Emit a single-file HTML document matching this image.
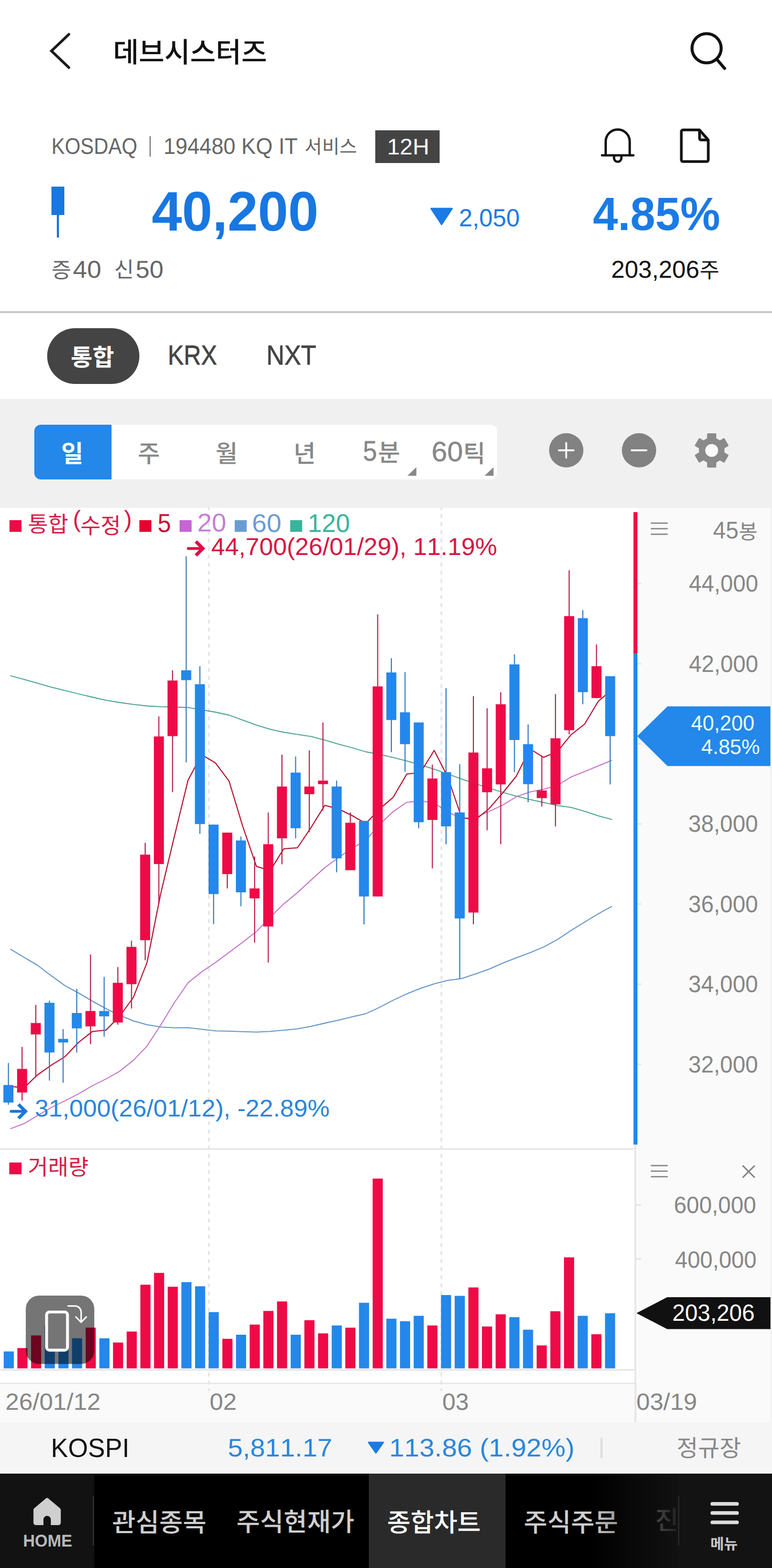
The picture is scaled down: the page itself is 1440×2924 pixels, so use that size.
<!DOCTYPE html>
<html lang="ko"><head><meta charset="utf-8"><meta name="viewport" content="width=1440"><title>종합차트</title><style>
html,body{margin:0;padding:0}
body{width:1440px;height:2924px;position:relative;overflow:hidden;background:#fff;font-family:"Liberation Sans",sans-serif;font-kerning:none;text-rendering:geometricPrecision;-webkit-font-smoothing:antialiased}
h1{margin:0;font-size:inherit;font-weight:inherit}
.abs{position:absolute}
.t{position:absolute;white-space:nowrap;line-height:1;transform-origin:0 0;display:block}
.k{position:absolute;overflow:visible}
.k text{font-family:"Liberation Sans","Noto Sans CJK KR",sans-serif}
.med{-webkit-text-stroke:0.7px currentColor}
.med5{-webkit-text-stroke:0.5px currentColor}
</style></head>
<body>
<header>
<svg class="abs" style="left:80px;top:50px" width="70" height="90" viewBox="80 50 70 90" aria-label="back"><polyline points="128.5,64 96,95 128.5,126" fill="none" stroke="#1a1a1a" stroke-width="5" stroke-linecap="round" stroke-linejoin="miter"/></svg>
<h1><svg class="k" style="left:211.4px;top:67.9px" width="307.0" height="52.8" viewBox="0 0 307.0 52.8"><text x="0" y="47.7" font-size="52" font-weight="500" fill="#111">데브시스터즈</text></svg></h1>
<svg class="abs" style="left:1280px;top:50px" width="90" height="90" viewBox="1280 50 90 90" aria-label="search"><circle cx="1318" cy="90" r="27.2" fill="none" stroke="#111" stroke-width="5.6"/><line x1="1337" y1="110.5" x2="1351.6" y2="127.6" stroke="#111" stroke-width="5.6" stroke-linecap="round"/></svg>
</header>
<section class="info">
<span class="t" style="left:95.9px;top:251.8px;font-size:42.3px;color:#666;transform:scaleX(0.8849);">KOSDAQ</span>
<div class="abs" style="left:279.0px;top:253.5px;width:2.4px;height:38.0px;background:#707070;"></div>
<span class="t" style="left:305.3px;top:251.8px;font-size:42.3px;color:#666;transform:scaleX(0.9507);">194480 KQ IT</span>
<svg class="k" style="left:567.9px;top:252.3px" width="106.6" height="38.3" viewBox="0 0 106.6 38.3"><text x="0" y="34.3" font-size="35.5" fill="#666">서비스</text></svg>
<div class="abs" style="left:700.2px;top:243.4px;width:119.8px;height:60.5px;background:#444;"></div>
<span class="t" style="left:721.9px;top:253.3px;font-size:41.9px;color:#fff;transform:scaleX(1.0234);">12H</span>
<svg class="abs" style="left:1110px;top:230px" width="230" height="85" viewBox="1110 230 230 85" aria-label="alarm and memo">
<g fill="none" stroke="#111" stroke-width="4.4" stroke-linecap="round" stroke-linejoin="round">
<path d="M1129.8 289.6V263.8A22.4 22.4 0 0 1 1174.6 263.8V289.6"/><path d="M1122.9 289.6H1181.5"/><path d="M1145.4 290.5V294.9A6.8 6.8 0 0 0 1159 294.9V290.5"/></g>
<path d="M1305 243V258.5a3 3 0 0 0 3 3H1320.5Z" fill="#ddd"/>
<g fill="none" stroke="#111" stroke-width="5" stroke-linejoin="round"><path d="M1273.9 242.3H1304.8L1321.1 261V298.3a3 3 0 0 1-3 3H1273.9a3 3 0 0 1-3-3V245.3a3 3 0 0 1 3-3Z"/><path d="M1304.8 242.3V258a3 3 0 0 0 3 3H1321.1"/></g></svg>
<div class="abs" style="left:96.2px;top:348.0px;width:23.9px;height:52.7px;background:#1877e0;"></div>
<div class="abs" style="left:105.9px;top:400.0px;width:4.1px;height:42.6px;background:#1877e0;"></div>
<span class="t price" style="left:283.2px;top:342.5px;font-size:104.1px;color:#1877e0;font-weight:bold;transform:scaleX(0.9774);">40,200</span>
<svg class="abs" style="left:795px;top:380px" width="60" height="48" viewBox="795 380 60 48"><path d="M804.4 387.4H843a1.6 1.6 0 0 1 1.3 2.4L825 419a1.6 1.6 0 0 1-2.6 0L803.1 389.8a1.6 1.6 0 0 1 1.3-2.4Z" fill="#1a7ae6"/></svg>
<span class="t" style="left:856.1px;top:382.8px;font-size:46.1px;color:#1a7ae6;transform:scaleX(0.9834);">2,050</span>
<span class="t" style="left:1106.4px;top:355.5px;font-size:87.2px;color:#1a7ae6;font-weight:bold;transform:scaleX(0.9601);">4.85%</span>
<svg class="k" style="left:96.4px;top:482.1px" width="39.0" height="40.7" viewBox="0 0 39.0 40.7"><text x="0" y="36.4" font-size="40" fill="#666">증</text></svg>
<span class="t" style="left:135.8px;top:479.5px;font-size:45.5px;color:#666;transform:scaleX(1.0442);">40</span>
<svg class="k" style="left:213.7px;top:480.2px" width="35.7" height="41.0" viewBox="0 0 35.7 41.0"><text x="-1" y="36.7" font-size="40" fill="#666">신</text></svg>
<span class="t" style="left:253.2px;top:479.5px;font-size:45.5px;color:#666;transform:scaleX(1.0253);">50</span>
<span class="t" style="left:1140.0px;top:479.5px;font-size:45.5px;color:#111;">203,206</span>
<svg class="k" style="left:1304.8px;top:482.7px" width="38.4" height="39.7" viewBox="0 0 38.4 39.7"><text x="0" y="35.5" font-size="40" fill="#111">주</text></svg>
</section>
<div class="abs" style="left:0.0px;top:580.0px;width:1440.0px;height:4.0px;background:#ccc;"></div>
<nav class="market">
<div class="abs" style="left:87.8px;top:611.8px;width:172.2px;height:103.9px;background:#444;border-radius:52px;"></div>
<svg class="k" style="left:131.5px;top:638.7px" width="87.8" height="47.5" viewBox="0 0 87.8 47.5"><text x="0" y="43" font-size="44" font-weight="700" fill="#fff">통합</text></svg>
<span class="t med" style="left:312.5px;top:637.4px;font-size:51.3px;color:#444;transform:scaleX(0.8703);">KRX</span>
<span class="t med" style="left:496.6px;top:637.4px;font-size:51.3px;color:#444;transform:scaleX(0.9062);">NXT</span>
</nav>
<section class="toolbar">
<div class="abs" style="left:0.0px;top:744.0px;width:1440.0px;height:203.0px;background:#f0f0f0;"></div>
<div class="abs" style="left:63.7px;top:792.0px;width:863.8px;height:102.0px;background:#fff;border-radius:12px;"></div>
<div class="abs" style="left:63.7px;top:792.0px;width:144.5px;height:102.0px;background:#2487ea;border-radius:12px 0 0 12px;"></div>
<svg class="k" style="left:115.3px;top:818.5px" width="40.6" height="47.3" viewBox="0 0 40.6 47.3"><text x="-1" y="42.7" font-size="45" font-weight="700" fill="#f2ffff">일</text></svg>
<svg class="k" style="left:258.0px;top:821.5px" width="42.8" height="44.5" viewBox="0 0 42.8 44.5"><text x="-1" y="39.9" font-size="45" font-weight="500" fill="#888">주</text></svg>
<svg class="k" style="left:402.5px;top:817.5px" width="42.8" height="48.9" viewBox="0 0 42.8 48.9"><text x="-1" y="44.3" font-size="45" font-weight="500" fill="#888">월</text></svg>
<svg class="k" style="left:548.7px;top:817.5px" width="40.5" height="49.1" viewBox="0 0 40.5 49.1"><text x="-1.5" y="44.5" font-size="45" font-weight="500" fill="#888">년</text></svg>
<span class="t med5" style="left:677.2px;top:816.3px;font-size:52.6px;color:#888;transform:scaleX(0.8982);">5</span>
<svg class="k" style="left:705.7px;top:819.8px" width="43.0" height="44.9" viewBox="0 0 43.0 44.9"><text x="-1" y="40.3" font-size="45" font-weight="500" fill="#888">분</text></svg>
<span class="t med5" style="left:804.5px;top:816.9px;font-size:51.8px;color:#888;transform:scaleX(1.0177);">60</span>
<svg class="k" style="left:865.9px;top:818.7px" width="37.1" height="47.4" viewBox="0 0 37.1 47.4"><text x="-2" y="42.8" font-size="45" font-weight="500" fill="#888">틱</text></svg>
<svg class="abs" style="left:750px;top:860px" width="180" height="34" viewBox="750 860 180 34"><path d="M776.6 871.2V887.3H760Z" fill="#888"/><path d="M920.6 871.2V887.3H903.8Z" fill="#888"/></svg>
<svg class="abs" style="left:1015px;top:800px" width="360" height="80" viewBox="1015 800 360 80" aria-label="zoom and settings">
<circle cx="1056.2" cy="839.7" r="32" fill="#828282"/><path d="M1042.4 839.7H1070M1056.2 825.9V853.5" stroke="#fff" stroke-width="3.4" stroke-linecap="round"/>
<circle cx="1192" cy="839.7" r="32" fill="#828282"/><path d="M1178.2 839.7H1205.8" stroke="#fff" stroke-width="3.4" stroke-linecap="round"/>
<g fill="#8a8a8a" transform="translate(1327.5 839.9)"><circle r="24"/>
<rect x="-8.6" y="-32" width="17.2" height="20" rx="2" transform="rotate(0)"/>
<rect x="-8.6" y="-32" width="17.2" height="20" rx="2" transform="rotate(60)"/>
<rect x="-8.6" y="-32" width="17.2" height="20" rx="2" transform="rotate(120)"/>
<rect x="-8.6" y="-32" width="17.2" height="20" rx="2" transform="rotate(180)"/>
<rect x="-8.6" y="-32" width="17.2" height="20" rx="2" transform="rotate(240)"/>
<rect x="-8.6" y="-32" width="17.2" height="20" rx="2" transform="rotate(300)"/>
<circle r="12" fill="#fafafa"/></g></svg>
</section>
<main class="chart">
<div class="abs" style="left:1189.0px;top:946.5px;width:248.0px;height:1705.5px;background:#fafafa;"></div>
<div class="abs" style="left:1437.0px;top:946.5px;width:3.0px;height:1705.5px;background:#f2f2f2;"></div>
<div class="abs" style="left:0.0px;top:2580.0px;width:1189.0px;height:72.0px;background:#fafafa;"></div>
<svg class="abs" style="left:0;top:946px" width="1440" height="1706" viewBox="0 946 1440 1706">
<g fill="#e6e6e6">
<rect x="0" y="2141" width="1184" height="3"/>
<rect x="0" y="2553" width="1186" height="3"/>
<rect x="0" y="2578.5" width="1186" height="2.5"/>
<rect x="1183.5" y="2136" width="3.5" height="516"/>
</g>
<line x1="389.6" y1="943.6" x2="389.6" y2="2594" stroke="#e5e5e5" stroke-width="3.4" stroke-dasharray="7.4 7.7"/>
<line x1="823.3" y1="943.6" x2="823.3" y2="2594" stroke="#e5e5e5" stroke-width="3.4" stroke-dasharray="7.4 7.7"/>
<g fill="#e4e4e4">
<rect x="1189" y="1983.2" width="7" height="3"/>
<rect x="1189" y="1833.8" width="7" height="3"/>
<rect x="1189" y="1684.4" width="7" height="3"/>
<rect x="1189" y="1535.0" width="7" height="3"/>
<rect x="1189" y="1385.7" width="7" height="3"/>
<rect x="1189" y="1236.3" width="7" height="3"/>
<rect x="1189" y="1086.9" width="7" height="3"/>
<rect x="1187" y="2245.5" width="9" height="3"/>
<rect x="1187" y="2346.2" width="9" height="3"/>
</g>
<polyline points="19.1,1260.0 44.6,1266.8 70.1,1274.1 95.6,1281.3 121.1,1287.7 146.7,1294.0 172.2,1300.0 197.7,1305.8 223.2,1310.0 248.7,1313.6 274.2,1316.5 299.7,1317.9 325.2,1318.5 350.7,1319.4 376.2,1323.7 401.8,1328.0 427.3,1333.5 452.8,1342.8 478.3,1352.1 503.8,1359.9 529.3,1365.5 554.8,1369.7 580.3,1373.4 605.8,1380.1 631.3,1387.6 656.9,1394.5 682.4,1402.0 707.9,1406.6 733.4,1412.7 758.9,1419.1 784.4,1426.3 809.9,1434.4 835.4,1443.5 860.9,1452.6 886.4,1461.4 912.0,1469.7 937.5,1477.5 963.0,1484.7 988.5,1490.9 1014.0,1496.5 1039.5,1502.1 1065.0,1505.6 1090.5,1512.9 1116.0,1521.3 1141.5,1528.2" fill="none" stroke="#45a38e" stroke-width="1.8" stroke-linejoin="round"/>
<polyline points="19.1,1769.7 44.6,1785.1 70.1,1800.1 95.6,1819.5 121.1,1838.0 146.7,1851.9 172.2,1866.9 197.7,1880.9 223.2,1893.2 248.7,1903.8 274.2,1910.8 299.7,1915.2 325.2,1916.7 350.7,1916.4 376.2,1919.3 401.8,1922.4 427.3,1922.8 452.8,1923.9 478.3,1924.7 503.8,1923.3 529.3,1921.1 554.8,1918.7 580.3,1913.9 605.8,1908.0 631.3,1902.3 656.9,1896.2 682.4,1890.3 707.9,1878.5 733.4,1865.2 758.9,1853.3 784.4,1843.1 809.9,1834.7 835.4,1828.2 860.9,1824.8 886.4,1816.3 912.0,1807.3 937.5,1796.2 963.0,1786.2 988.5,1776.6 1014.0,1766.0 1039.5,1752.2 1065.0,1735.3 1090.5,1719.6 1116.0,1704.0 1141.5,1690.0" fill="none" stroke="#5a90c2" stroke-width="1.8" stroke-linejoin="round"/>
<polyline points="19.1,2105.0 44.6,2095.4 70.1,2080.3 95.6,2065.2 121.1,2052.7 146.7,2039.8 172.2,2024.7 197.7,2012.0 223.2,1997.8 248.7,1977.3 274.2,1950.8 299.7,1911.5 325.2,1869.8 350.7,1832.7 376.2,1812.2 401.8,1795.0 427.3,1776.0 452.8,1757.0 478.3,1737.1 503.8,1710.6 529.3,1685.7 554.8,1664.5 580.3,1641.0 605.8,1618.0 631.3,1599.1 656.9,1581.9 682.4,1566.8 707.9,1537.4 733.4,1513.5 758.9,1496.1 784.4,1493.3 809.9,1497.4 835.4,1514.4 860.9,1526.0 886.4,1524.8 912.0,1513.3 937.5,1501.5 963.0,1485.7 988.5,1476.8 1014.0,1471.7 1039.5,1464.7 1065.0,1448.9 1090.5,1438.8 1116.0,1428.2 1141.5,1417.9" fill="none" stroke="#c26dc6" stroke-width="1.8" stroke-linejoin="round"/>
<polyline points="19.1,2025.7 44.6,2028.7 70.1,2004.3 95.6,1986.3 121.1,1970.5 146.7,1943.7 172.2,1923.6 197.7,1921.0 223.2,1895.0 248.7,1860.0 274.2,1795.0 299.7,1666.7 325.2,1560.0 350.7,1455.0 376.2,1407.3 401.8,1422.7 427.3,1456.7 452.8,1541.0 478.3,1615.5 503.8,1623.8 529.3,1582.7 554.8,1581.0 580.3,1543.0 605.8,1501.7 631.3,1508.5 656.9,1521.0 682.4,1535.7 707.9,1508.6 733.4,1486.7 758.9,1443.3 784.4,1440.8 809.9,1399.3 835.4,1449.5 860.9,1524.5 886.4,1529.0 912.0,1508.2 937.5,1479.0 963.0,1447.5 988.5,1396.5 1014.0,1412.3 1039.5,1401.7 1065.0,1370.3 1090.5,1350.3 1116.0,1307.7 1141.5,1286.0" fill="none" stroke="#b5122f" stroke-width="2.05" stroke-linejoin="round"/>
<rect x="14.7" y="1982.3" width="2" height="77.7" fill="#3579bd"/>
<rect x="6.3" y="2023.3" width="18.7" height="32.7" fill="#2487ea"/>
<rect x="40.2" y="1952.3" width="2" height="100.0" fill="#b81d4a"/>
<rect x="31.9" y="1993.3" width="18.7" height="44.0" fill="#ee0a46"/>
<rect x="65.7" y="1874.0" width="2" height="134.3" fill="#b81d4a"/>
<rect x="57.4" y="1907.7" width="18.7" height="21.3" fill="#ee0a46"/>
<rect x="91.2" y="1866.0" width="2" height="149.0" fill="#3579bd"/>
<rect x="82.9" y="1870.0" width="18.7" height="92.7" fill="#2487ea"/>
<rect x="116.7" y="1919.0" width="2" height="100.0" fill="#3579bd"/>
<rect x="108.4" y="1937.3" width="18.7" height="6.7" fill="#2487ea"/>
<rect x="142.2" y="1844.0" width="2" height="118.7" fill="#3579bd"/>
<rect x="133.9" y="1889.0" width="18.7" height="28.7" fill="#2487ea"/>
<rect x="167.8" y="1780.0" width="2" height="167.3" fill="#b81d4a"/>
<rect x="159.4" y="1885.3" width="18.7" height="28.7" fill="#ee0a46"/>
<rect x="193.3" y="1821.7" width="2" height="111.6" fill="#3579bd"/>
<rect x="184.9" y="1885.3" width="18.7" height="10.0" fill="#2487ea"/>
<rect x="218.8" y="1803.3" width="2" height="107.4" fill="#b81d4a"/>
<rect x="210.4" y="1832.7" width="18.7" height="74.0" fill="#ee0a46"/>
<rect x="244.3" y="1754.3" width="2" height="126.4" fill="#b81d4a"/>
<rect x="235.9" y="1765.7" width="18.7" height="69.6" fill="#ee0a46"/>
<rect x="269.8" y="1571.7" width="2" height="219.0" fill="#b81d4a"/>
<rect x="261.4" y="1593.7" width="18.7" height="159.6" fill="#ee0a46"/>
<rect x="295.3" y="1336.0" width="2" height="350.0" fill="#b81d4a"/>
<rect x="287.0" y="1373.3" width="18.7" height="238.0" fill="#ee0a46"/>
<rect x="320.8" y="1250.0" width="2" height="227.3" fill="#b81d4a"/>
<rect x="312.5" y="1269.0" width="18.7" height="103.7" fill="#ee0a46"/>
<rect x="346.3" y="1037.3" width="2" height="384.4" fill="#3579bd"/>
<rect x="338.0" y="1250.0" width="18.7" height="18.3" fill="#2487ea"/>
<rect x="371.8" y="1242.3" width="2" height="312.7" fill="#3579bd"/>
<rect x="363.5" y="1276.0" width="18.7" height="260.7" fill="#2487ea"/>
<rect x="397.4" y="1537.7" width="2" height="185.6" fill="#3579bd"/>
<rect x="389.0" y="1537.7" width="18.7" height="129.6" fill="#2487ea"/>
<rect x="422.9" y="1552.7" width="2" height="104.0" fill="#b81d4a"/>
<rect x="414.5" y="1552.7" width="18.7" height="77.3" fill="#ee0a46"/>
<rect x="448.4" y="1560.0" width="2" height="130.0" fill="#3579bd"/>
<rect x="440.0" y="1567.3" width="18.7" height="96.7" fill="#2487ea"/>
<rect x="473.9" y="1597.3" width="2" height="160.4" fill="#b81d4a"/>
<rect x="465.5" y="1656.7" width="18.7" height="18.6" fill="#ee0a46"/>
<rect x="499.4" y="1515.0" width="2" height="280.0" fill="#b81d4a"/>
<rect x="491.0" y="1574.3" width="18.7" height="153.4" fill="#ee0a46"/>
<rect x="524.9" y="1407.3" width="2" height="204.4" fill="#b81d4a"/>
<rect x="516.6" y="1466.7" width="18.7" height="96.6" fill="#ee0a46"/>
<rect x="550.4" y="1410.7" width="2" height="152.6" fill="#3579bd"/>
<rect x="542.1" y="1440.7" width="18.7" height="103.8" fill="#2487ea"/>
<rect x="575.9" y="1399.3" width="2" height="152.4" fill="#b81d4a"/>
<rect x="567.6" y="1466.7" width="18.7" height="14.3" fill="#ee0a46"/>
<rect x="601.4" y="1347.3" width="2" height="164.4" fill="#b81d4a"/>
<rect x="593.1" y="1455.7" width="18.7" height="6.6" fill="#ee0a46"/>
<rect x="626.9" y="1455.7" width="2" height="171.0" fill="#3579bd"/>
<rect x="618.6" y="1466.7" width="18.7" height="134.0" fill="#2487ea"/>
<rect x="652.5" y="1515.0" width="2" height="107.7" fill="#b81d4a"/>
<rect x="644.1" y="1534.3" width="18.7" height="88.4" fill="#ee0a46"/>
<rect x="678.0" y="1530.7" width="2" height="193.0" fill="#3579bd"/>
<rect x="669.6" y="1530.7" width="18.7" height="141.0" fill="#2487ea"/>
<rect x="703.5" y="1145.7" width="2" height="526.0" fill="#b81d4a"/>
<rect x="695.1" y="1280.0" width="18.7" height="391.7" fill="#ee0a46"/>
<rect x="729.0" y="1227.3" width="2" height="175.4" fill="#3579bd"/>
<rect x="720.6" y="1254.0" width="18.7" height="88.7" fill="#2487ea"/>
<rect x="754.5" y="1253.3" width="2" height="186.0" fill="#3579bd"/>
<rect x="746.1" y="1328.3" width="18.7" height="59.4" fill="#2487ea"/>
<rect x="780.0" y="1347.3" width="2" height="197.2" fill="#3579bd"/>
<rect x="771.7" y="1347.3" width="18.7" height="186.0" fill="#2487ea"/>
<rect x="805.5" y="1425.7" width="2" height="193.6" fill="#b81d4a"/>
<rect x="797.2" y="1451.7" width="18.7" height="77.3" fill="#ee0a46"/>
<rect x="831.0" y="1283.3" width="2" height="291.0" fill="#3579bd"/>
<rect x="822.7" y="1440.0" width="18.7" height="101.0" fill="#2487ea"/>
<rect x="856.5" y="1425.0" width="2" height="401.0" fill="#3579bd"/>
<rect x="848.2" y="1515.0" width="18.7" height="197.7" fill="#2487ea"/>
<rect x="882.0" y="1298.3" width="2" height="425.4" fill="#b81d4a"/>
<rect x="873.7" y="1403.3" width="18.7" height="298.4" fill="#ee0a46"/>
<rect x="907.6" y="1320.7" width="2" height="227.6" fill="#b81d4a"/>
<rect x="899.2" y="1432.7" width="18.7" height="44.6" fill="#ee0a46"/>
<rect x="933.1" y="1291.0" width="2" height="283.3" fill="#b81d4a"/>
<rect x="924.7" y="1313.3" width="18.7" height="149.4" fill="#ee0a46"/>
<rect x="958.6" y="1220.0" width="2" height="220.0" fill="#3579bd"/>
<rect x="950.2" y="1239.0" width="18.7" height="141.0" fill="#2487ea"/>
<rect x="984.1" y="1351.0" width="2" height="145.0" fill="#3579bd"/>
<rect x="975.7" y="1387.7" width="18.7" height="74.6" fill="#2487ea"/>
<rect x="1009.6" y="1410.0" width="2" height="94.0" fill="#b81d4a"/>
<rect x="1001.2" y="1474.0" width="18.7" height="14.3" fill="#ee0a46"/>
<rect x="1035.1" y="1294.3" width="2" height="246.7" fill="#b81d4a"/>
<rect x="1026.8" y="1376.7" width="18.7" height="123.3" fill="#ee0a46"/>
<rect x="1060.6" y="1063.3" width="2" height="306.0" fill="#b81d4a"/>
<rect x="1052.3" y="1149.0" width="18.7" height="212.7" fill="#ee0a46"/>
<rect x="1086.1" y="1137.7" width="2" height="175.6" fill="#3579bd"/>
<rect x="1077.8" y="1152.7" width="18.7" height="138.0" fill="#2487ea"/>
<rect x="1111.6" y="1201.7" width="2" height="100.0" fill="#b81d4a"/>
<rect x="1103.3" y="1242.3" width="18.7" height="59.4" fill="#ee0a46"/>
<rect x="1137.1" y="1261.0" width="2" height="201.7" fill="#3579bd"/>
<rect x="1128.8" y="1261.0" width="18.7" height="111.7" fill="#2487ea"/>
<rect x="6.9" y="2520.2" width="18.9" height="31.5" fill="#2487ea"/>
<rect x="32.4" y="2513.9" width="18.9" height="37.8" fill="#ee0a46"/>
<rect x="57.9" y="2490.3" width="18.9" height="61.4" fill="#ee0a46"/>
<rect x="83.4" y="2471.0" width="18.9" height="80.7" fill="#2487ea"/>
<rect x="108.9" y="2500.0" width="18.9" height="51.7" fill="#2487ea"/>
<rect x="134.3" y="2495.6" width="18.9" height="56.1" fill="#2487ea"/>
<rect x="159.8" y="2475.8" width="18.9" height="75.9" fill="#ee0a46"/>
<rect x="185.3" y="2495.6" width="18.9" height="56.1" fill="#2487ea"/>
<rect x="210.8" y="2503.5" width="18.9" height="48.2" fill="#ee0a46"/>
<rect x="236.3" y="2483.0" width="18.9" height="68.7" fill="#ee0a46"/>
<rect x="261.8" y="2395.7" width="18.9" height="156.0" fill="#ee0a46"/>
<rect x="287.3" y="2373.7" width="18.9" height="178.0" fill="#ee0a46"/>
<rect x="312.8" y="2399.5" width="18.9" height="152.2" fill="#ee0a46"/>
<rect x="338.3" y="2391.0" width="18.9" height="160.7" fill="#2487ea"/>
<rect x="363.8" y="2398.6" width="18.9" height="153.1" fill="#2487ea"/>
<rect x="389.2" y="2446.8" width="18.9" height="104.9" fill="#2487ea"/>
<rect x="414.7" y="2496.6" width="18.9" height="55.1" fill="#ee0a46"/>
<rect x="440.2" y="2489.0" width="18.9" height="62.7" fill="#2487ea"/>
<rect x="465.7" y="2470.1" width="18.9" height="81.6" fill="#ee0a46"/>
<rect x="491.2" y="2444.6" width="18.9" height="107.1" fill="#ee0a46"/>
<rect x="516.7" y="2426.9" width="18.9" height="124.8" fill="#ee0a46"/>
<rect x="542.2" y="2489.0" width="18.9" height="62.7" fill="#2487ea"/>
<rect x="567.7" y="2461.9" width="18.9" height="89.8" fill="#ee0a46"/>
<rect x="593.2" y="2486.5" width="18.9" height="65.2" fill="#ee0a46"/>
<rect x="618.7" y="2471.7" width="18.9" height="80.0" fill="#2487ea"/>
<rect x="644.1" y="2475.8" width="18.9" height="75.9" fill="#ee0a46"/>
<rect x="669.6" y="2429.4" width="18.9" height="122.3" fill="#2487ea"/>
<rect x="695.1" y="2197.8" width="18.9" height="353.9" fill="#ee0a46"/>
<rect x="720.6" y="2459.1" width="18.9" height="92.6" fill="#2487ea"/>
<rect x="746.1" y="2463.8" width="18.9" height="87.9" fill="#2487ea"/>
<rect x="771.6" y="2453.7" width="18.9" height="98.0" fill="#2487ea"/>
<rect x="797.1" y="2471.7" width="18.9" height="80.0" fill="#ee0a46"/>
<rect x="822.6" y="2415.0" width="18.9" height="136.7" fill="#2487ea"/>
<rect x="848.1" y="2416.5" width="18.9" height="135.2" fill="#2487ea"/>
<rect x="873.6" y="2400.8" width="18.9" height="150.9" fill="#ee0a46"/>
<rect x="899.0" y="2473.6" width="18.9" height="78.1" fill="#ee0a46"/>
<rect x="924.5" y="2450.9" width="18.9" height="100.8" fill="#ee0a46"/>
<rect x="950.0" y="2456.2" width="18.9" height="95.5" fill="#2487ea"/>
<rect x="975.5" y="2479.6" width="18.9" height="72.1" fill="#2487ea"/>
<rect x="1001.0" y="2508.9" width="18.9" height="42.8" fill="#ee0a46"/>
<rect x="1026.5" y="2445.2" width="18.9" height="106.5" fill="#ee0a46"/>
<rect x="1052.0" y="2344.7" width="18.9" height="207.0" fill="#ee0a46"/>
<rect x="1077.5" y="2453.7" width="18.9" height="98.0" fill="#2487ea"/>
<rect x="1103.0" y="2488.1" width="18.9" height="63.6" fill="#ee0a46"/>
<rect x="1128.5" y="2449.0" width="18.9" height="102.7" fill="#2487ea"/>
<rect x="1181.6" y="955" width="7.4" height="264.5" fill="#ee0a46"/>
<rect x="1181.6" y="1219.5" width="7.4" height="915" fill="#2487ea"/>
<path d="M1188.6 1372.7L1245 1317.3H1437V1428.6H1245Z" fill="#2487ea"/>
<path d="M1187.2 2448.8L1244.5 2419.1H1437.2V2478.5H1244.5Z" fill="#111"/>
<g stroke="#878787" stroke-width="2.5" fill="none">
<path d="M1214 975.5H1245.5"/>
<path d="M1214 985.9H1245.5"/>
<path d="M1214 996.2H1245.5"/>
<path d="M1214 2173.6H1245.5"/>
<path d="M1214 2183.9H1245.5"/>
<path d="M1214 2194.3H1245.5"/>
<path d="M1385.2 2173.5L1407.8 2196M1407.8 2173.5L1385.2 2196" stroke-width="2.9"/>
</g>
<path d="M351.1 1022.8H375.8" fill="none" stroke="#e10c44" stroke-width="5.2" stroke-linecap="round"/><path d="M367.5 1012.0L378.40000000000003 1022.8L367.5 1033.6" fill="none" stroke="#e10c44" stroke-width="6.2" stroke-linecap="square" stroke-linejoin="miter"/>
<path d="M20.8 2072.4H44.9" fill="none" stroke="#1b76da" stroke-width="5.2" stroke-linecap="round"/><path d="M36.599999999999994 2061.6L47.5 2072.4L36.599999999999994 2083.2000000000003" fill="none" stroke="#1b76da" stroke-width="6.2" stroke-linecap="square" stroke-linejoin="miter"/>
<rect x="17.7" y="970" width="22.4" height="21.8" fill="#ee0a46"/>
<rect x="260" y="970" width="22.4" height="21.8" fill="#e6002e"/>
<rect x="335" y="970" width="22.4" height="21.8" fill="#c566d3"/>
<rect x="437.8" y="970" width="22.4" height="21.8" fill="#6a9cd3"/>
<rect x="541.3" y="970" width="22.4" height="21.8" fill="#3bb39b"/>
<rect x="17.3" y="2167.8" width="23" height="22" fill="#ee0a46"/>
</svg>
<svg class="k" style="left:52.2px;top:952.8px" width="81.0" height="43.5" viewBox="0 0 81.0 43.5"><text x="0" y="39" font-size="41" fill="#d81a45">통합</text></svg>
<span class="t" style="left:136.1px;top:946.8px;font-size:44.2px;color:#d81a45;">(</span>
<svg class="k" style="left:149.5px;top:953.0px" width="82.3" height="46.0" viewBox="0 0 82.3 46.0"><text x="0" y="41.6" font-size="41" fill="#d81a45">수정</text></svg>
<span class="t" style="left:231.3px;top:946.8px;font-size:44.2px;color:#d81a45;">)</span>
<span class="t" style="left:293.9px;top:951.9px;font-size:48.4px;color:#c8102e;transform:scaleX(0.9282);">5</span>
<span class="t" style="left:367.8px;top:952.3px;font-size:47.7px;color:#c57fd3;transform:scaleX(1.0227);">20</span>
<span class="t" style="left:469.5px;top:952.6px;font-size:47.7px;color:#6a9cd3;transform:scaleX(1.0395);">60</span>
<span class="t" style="left:573.9px;top:952.6px;font-size:47.7px;color:#3bb39b;transform:scaleX(0.9907);">120</span>
<span class="t" style="left:394.4px;top:996.5px;font-size:45.5px;color:#d81443;transform:scaleX(1.0133);">44,700(26/01/29), 11.19%</span>
<span class="t" style="left:64.9px;top:2046.4px;font-size:44.7px;color:#2b85db;transform:scaleX(1.0342);">31,000(26/01/12), -22.89%</span>
<svg class="k" style="left:52.1px;top:2152.1px" width="122.8" height="43.5" viewBox="0 0 122.8 43.5"><text x="0" y="39" font-size="41" fill="#d81a45">거래량</text></svg>
<span class="t" style="left:1329.9px;top:966.8px;font-size:44.8px;color:#868686;transform:scaleX(0.9569);">45</span>
<svg class="k" style="left:1377.9px;top:969.5px" width="37.1" height="39.7" viewBox="0 0 37.1 39.7"><text x="0" y="35.5" font-size="38" fill="#868686">봉</text></svg>
<span class="t" style="left:1284.2px;top:1963.5px;font-size:44.0px;color:#868686;transform:scaleX(0.9658);">32,000</span>
<span class="t" style="left:1284.2px;top:1814.2px;font-size:44.0px;color:#868686;transform:scaleX(0.9658);">34,000</span>
<span class="t" style="left:1284.2px;top:1664.8px;font-size:44.0px;color:#868686;transform:scaleX(0.9658);">36,000</span>
<span class="t" style="left:1284.2px;top:1515.4px;font-size:44.0px;color:#868686;transform:scaleX(0.9658);">38,000</span>
<span class="t" style="left:1284.8px;top:1216.6px;font-size:44.0px;color:#868686;transform:scaleX(0.9609);">42,000</span>
<span class="t" style="left:1284.8px;top:1067.3px;font-size:44.0px;color:#868686;transform:scaleX(0.9609);">44,000</span>
<span class="t" style="left:1288.7px;top:1329.9px;font-size:39.8px;color:#eaffff;transform:scaleX(0.9718);">40,200</span>
<span class="t" style="left:1307.7px;top:1374.4px;font-size:39.0px;color:#eaffff;transform:scaleX(0.9889);">4.85%</span>
<span class="t" style="left:1257.3px;top:2225.9px;font-size:43.8px;color:#868686;transform:scaleX(0.9690);">600,000</span>
<span class="t" style="left:1258.5px;top:2327.5px;font-size:43.8px;color:#868686;transform:scaleX(0.9614);">400,000</span>
<span class="t" style="left:1253.7px;top:2427.1px;font-size:43.8px;color:#fff;transform:scaleX(0.9702);">203,206</span>
<span class="t" style="left:9.6px;top:2592.7px;font-size:43.7px;color:#868686;transform:scaleX(1.0446);">26/01/12</span>
<span class="t" style="left:390.8px;top:2592.7px;font-size:43.7px;color:#868686;transform:scaleX(1.0380);">02</span>
<span class="t" style="left:825.1px;top:2592.7px;font-size:43.7px;color:#868686;transform:scaleX(1.0160);">03</span>
<span class="t" style="left:1186.7px;top:2592.7px;font-size:43.7px;color:#868686;transform:scaleX(1.0362);">03/19</span>
<svg class="abs" style="left:40px;top:2410px" width="145" height="140" viewBox="40 2410 145 140" aria-label="rotate">
<rect x="48.1" y="2415.9" width="127.8" height="127.7" rx="25" fill="#000" fill-opacity="0.54"/>
<rect x="86.9" y="2446.6" width="39" height="71.2" rx="5.5" fill="#757575" stroke="#fff" stroke-width="5.4"/>
<path d="M127 2435.4H140A11.3 11.3 0 0 1 151.3 2446.7V2465M141.5 2455.8L151.3 2465.8L161.1 2455.8" fill="none" stroke="#fff" stroke-width="2.8" stroke-linecap="round" stroke-linejoin="round"/></svg>
</main>
<section class="index">
<div class="abs" style="left:0.0px;top:2652.0px;width:1440.0px;height:96.0px;background:#f5f5f5;"></div>
<span class="t" style="left:94.7px;top:2676.0px;font-size:49.4px;color:#111;transform:scaleX(0.9685);">KOSPI</span>
<span class="t" style="left:424.8px;top:2676.8px;font-size:47.3px;color:#2b86dc;transform:scaleX(1.0581);">5,811.17</span>
<svg class="abs" style="left:680px;top:2680px" width="44" height="40" viewBox="680 2680 44 40"><path d="M687.5 2688.5H715a1.3 1.3 0 0 1 1.1 2L702.3 2710a1.3 1.3 0 0 1-2.2 0L686.4 2690.5a1.3 1.3 0 0 1 1.1-2Z" fill="#1a7ae6"/></svg>
<span class="t" style="left:726.3px;top:2676.8px;font-size:47.3px;color:#2b86dc;transform:scaleX(1.0691);">113.86 (1.92%)</span>
<div class="abs" style="left:1120.0px;top:2680.7px;width:4.0px;height:38.0px;background:#dedede;"></div>
<svg class="k" style="left:1261.6px;top:2674.8px" width="130.2" height="46.0" viewBox="0 0 130.2 46.0"><text x="0" y="41.5" font-size="43.6" fill="#888">정규장</text></svg>
</section>
<nav class="bottom">
<div class="abs" style="left:0.0px;top:2747.6px;width:1440.0px;height:176.4px;background:#000;"></div>
<div class="abs" style="left:0.0px;top:2747.6px;width:176.0px;height:176.4px;background:#121212;"></div>
<div class="abs" style="left:688.0px;top:2747.6px;width:255.4px;height:176.4px;background:#2a2a2a;"></div>
<div class="abs" style="left:1265.0px;top:2747.6px;width:175.0px;height:176.4px;background:#131313;"></div>
<div class="abs" style="left:172.9px;top:2790.0px;width:2.2px;height:91.8px;background:#333;"></div>
<div class="abs" style="left:1264.3px;top:2790.4px;width:2.7px;height:90.6px;background:#2c2c2c;"></div>
<svg class="abs" style="left:55px;top:2785px" width="70" height="65" viewBox="55 2785 70 65" aria-label="home"><path d="M85.600 2794.3a3.400 3.400 0 0 1 4.400 0L111.800 2812.600a4.500 4.500 0 0 1 1.600 3.400V2839.500a4.500 4.500 0 0 1-4.500 4.500H94.800V2833.600a6.900 6.900 0 0 0-13.800 0V2844H66.900a4.500 4.500 0 0 1-4.500-4.500V2816a4.500 4.500 0 0 1 1.600-3.400Z" fill="#cfcfcf"/></svg>
<span class="t" style="left:42.6px;top:2857.6px;font-size:31.8px;color:#b8b8b8;font-weight:bold;transform:scaleX(0.9616);">HOME</span>
<svg class="k" style="left:208.5px;top:2811.1px" width="190.2" height="49.5" viewBox="0 0 190.2 49.5"><text x="0" y="44.7" font-size="47.8" font-weight="500" fill="#cfcfcf">관심종목</text></svg>
<svg class="k" style="left:440.6px;top:2810.0px" width="238.3" height="49.5" viewBox="0 0 238.3 49.5"><text x="0" y="44.7" font-size="47.8" font-weight="500" fill="#cfcfcf">주식현재가</text></svg>
<svg class="k" style="left:721.5px;top:2811.1px" width="189.4" height="49.8" viewBox="0 0 189.4 49.8"><text x="0" y="45" font-size="47.5" font-weight="500" fill="#fff">종합차트</text></svg>
<svg class="k" style="left:976.7px;top:2811.4px" width="190.2" height="49.6" viewBox="0 0 190.2 49.6"><text x="0" y="44.8" font-size="47.8" font-weight="500" fill="#cfcfcf">주식주문</text></svg>
<svg class="k" style="left:1223.0px;top:2811.4px" width="39.5" height="45.4" viewBox="0 0 39.5 45.4"><text x="-1" y="40.6" font-size="47.8" font-weight="500" fill="#b5b5b5">진</text></svg>
<div class="abs" style="left:1100.0px;top:2747.6px;width:165.0px;height:176.4px;background:linear-gradient(90deg,rgba(19,19,19,0),rgba(19,19,19,0.55) 60%,rgba(19,19,19,0.92));"></div>
<svg class="abs" style="left:1320px;top:2795px" width="66" height="54" viewBox="1320 2795 66 54"><g stroke="#dcdcdc" stroke-width="6.8" stroke-linecap="round"><path d="M1328.700 2804.400H1374.700"/><path d="M1328.700 2821.400H1374.700"/><path d="M1328.700 2838.900H1374.700"/></g></svg>
<svg class="k" style="left:1324.6px;top:2860.6px" width="56.2" height="31.5" viewBox="0 0 56.2 31.5"><text x="0" y="28" font-size="27.7" font-weight="700" fill="#c8c8c8">메뉴</text></svg>
</nav>
</body></html>
